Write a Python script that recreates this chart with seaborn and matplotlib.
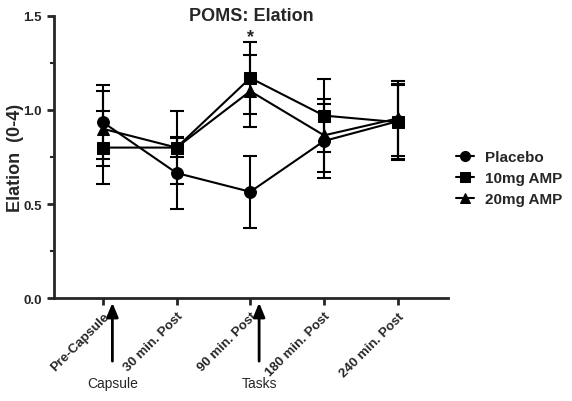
import matplotlib
matplotlib.use("Agg")
import matplotlib.pyplot as plt
import seaborn as sns
import pandas as pd
import numpy as np
from matplotlib.ticker import MultipleLocator

timepoints = ["Pre-Capsule", "30 min. Post", "90 min. Post", "180 min. Post", "240 min. Post"]
groups = ["Placebo", "10mg AMP", "20mg AMP"]
placebo = [0.935, 0.665, 0.565, 0.835, 0.94]
amp10 = [0.80, 0.80, 1.17, 0.97, 0.935]
amp20 = [0.90, 0.80, 1.10, 0.865, 0.955]
placebo_err = [0.195, 0.19, 0.19, 0.195, 0.20]
amp10_err = [0.195, 0.195, 0.19, 0.195, 0.20]
amp20_err = [0.20, 0.05, 0.19, 0.195, 0.20]
markers = ["o", "s", "^"]

rows = []
for g, vals, errs in zip(groups, [placebo, amp10, amp20], [placebo_err, amp10_err, amp20_err]):
    for i, (v, e) in enumerate(zip(vals, errs)):
        rows.append({"group": g, "x": i, "value": v, "err": e})
df = pd.DataFrame(rows)

sns.set_style("ticks")
plt.rcParams['font.family'] = ['Liberation Sans', 'DejaVu Sans']

fig = plt.figure(figsize=(5.72, 4.02), dpi=100)
ax = fig.add_axes([0.094, 0.256, 0.689, 0.702])

for g, m in zip(groups, markers):
    sub = df[df.group == g]
    ax.errorbar(sub.x, sub.value, yerr=sub.err, fmt="none", ecolor="black",
                elinewidth=1.5, capsize=5, capthick=1.5, zorder=2)

sns.lineplot(data=df, x="x", y="value", hue="group", style="group",
             markers=dict(zip(groups, markers)), dashes=False,
             palette=["black"] * 3, markersize=8.5, linewidth=1.5,
             markeredgecolor="black", ax=ax, legend=True, zorder=3)

ax.set_xlim(-0.665, 4.68)
ax.set_ylim(0, 1.5)
ax.yaxis.set_major_locator(MultipleLocator(0.5))
ax.yaxis.set_minor_locator(MultipleLocator(0.25))
ax.set_xticks(range(len(timepoints)))
ax.set_xticklabels(timepoints, rotation=45, ha="right", rotation_mode="anchor",
                   fontweight="bold", fontsize=9.5)
for lab in ax.get_yticklabels():
    lab.set_fontweight("bold")
    lab.set_fontsize(9.5)
ax.tick_params(axis="both", width=2, length=5, direction="out")
ax.tick_params(axis="y", which="minor", width=1.5, length=3)
for s in ["left", "bottom"]:
    ax.spines[s].set_linewidth(2)
sns.despine(ax=ax)

ax.set_xlabel("")
ax.set_ylabel("Elation  (0-4)", fontsize=13, fontweight="bold")
ax.yaxis.set_label_coords(-0.076, 0.5)
ax.text(0.5, 1.0, "POMS: Elation", transform=ax.transAxes, ha="center", va="center",
        fontsize=13, fontweight="bold")

ax.text(2, 1.367, "*", ha="center", va="baseline", fontsize=13, fontweight="bold")

# arrows and annotations below axis
for xpos, label in [(0.13, "Capsule"), (2.12, "Tasks")]:
    ax.annotate("", xy=(xpos, -0.01), xytext=(xpos, -0.35),
                xycoords="data", textcoords="data",
                arrowprops=dict(arrowstyle="-|>,head_length=0.6,head_width=0.25",
                                color="black", lw=2, mutation_scale=14),
                annotation_clip=False)
    ax.text(xpos, -0.45, label, ha="center", va="center", fontsize=10)

leg = ax.legend(handles=ax.get_legend_handles_labels()[0],
                labels=groups, loc="center left", bbox_to_anchor=(0.985, 0.425),
                frameon=False, prop={"weight": "bold", "size": 11},
                handlelength=1.2, handletextpad=0.7, labelspacing=0.45,
                markerscale=0.85)

fig.savefig("out.png", dpi=100)
